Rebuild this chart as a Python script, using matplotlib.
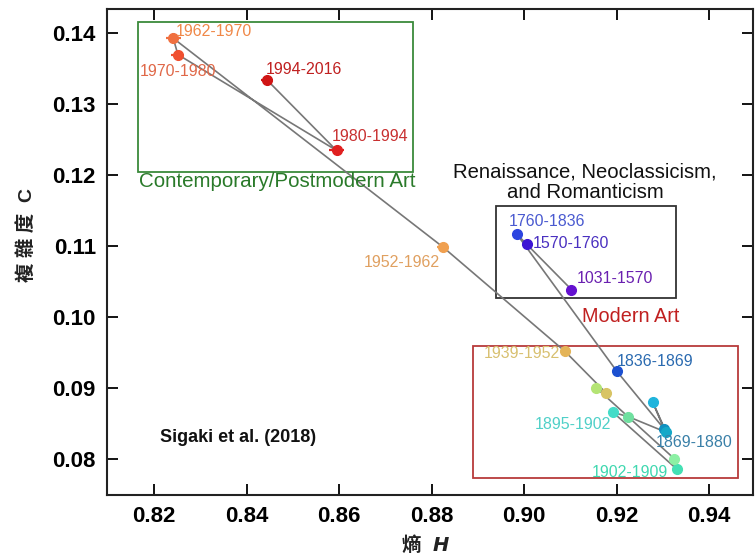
import matplotlib
matplotlib.use("Agg")
import matplotlib.pyplot as plt
import numpy as np

plt.rcParams['font.family'] = ['Liberation Sans', 'Noto Sans CJK TC', 'DejaVu Sans']

# ---- data (path order as drawn) ----
periods = ["1031-1570", "1570-1760", "1760-1836", "1836-1869", "1869-1880", None,
           None, None, "1895-1902", "1902-1909", None, None, None,
           "1939-1952", "1952-1962", "1962-1970", "1970-1980", "1980-1994", "1994-2016"]
entropy_H = [0.9102, 0.9005, 0.8984, 0.9200, 0.9302, 0.9278, 0.9307, 0.9225, 0.9192,
             0.9330, 0.9324, 0.9155, 0.9176, 0.9088, 0.8824, 0.8241, 0.8251, 0.8594, 0.8444]
complexity_C = [0.1038, 0.1102, 0.1116, 0.0923, 0.0842, 0.0879, 0.0837, 0.0859, 0.0865,
                0.0785, 0.0800, 0.0900, 0.0893, 0.0951, 0.1098, 0.1392, 0.1369, 0.1234, 0.1333]
err_H = [0.0003, 0.0003, 0.0003, 0.0003, 0.0003, 0.0003, 0.0003, 0.0003, 0.0003,
         0.0003, 0.0003, 0.0004, 0.0004, 0.0008, 0.0012, 0.0016, 0.0014, 0.0016, 0.0013]
err_C = [0.0002, 0.0002, 0.0002, 0.0002, 0.0002, 0.0002, 0.0002, 0.0002, 0.0002,
         0.0002, 0.0002, 0.0003, 0.0003, 0.0004, 0.0006, 0.0008, 0.0006, 0.0006, 0.0006]
point_colors = ["#6410d0", "#3c14d4", "#2c44e0", "#1c50d0", "#1090c0", "#20b4dc",
                "#14a8c8", "#70e0a0", "#44dcc8", "#44e0b4", "#8cf0a4", "#b4e474",
                "#d8c464", "#e4b458", "#f0a050", "#f07040", "#f05030", "#e02020", "#d01414"]
label_colors = ["#6a20b0", "#4a30c0", "#4a5ad0", "#2a6ab0", "#3a80a8", None,
                None, None, "#50d0c8", "#40d8b0", None, None, None,
                "#d8c070", "#e0a060", "#f08848", "#e06848", "#c83030", "#c02020"]
# label offsets in pixels (dx, dy up), alignment
label_offsets = [(5, 11, "left"), (6, 1, "left"), (-8, 13, "left"), (0, 10, "left"),
                 (-8, -14, "left"), None, None, None, (-2, -12, "right"), (-9, -3, "right"),
                 None, None, None, (-5, -2, "right"), (-3, -15, "right"), (2, 7, "left"),
                 (-38, -17, "left"), (-5, 14, "left"), (-1, 11, "left")]

x_ticks = [0.82, 0.84, 0.86, 0.88, 0.90, 0.92, 0.94]
y_ticks = [0.08, 0.09, 0.10, 0.11, 0.12, 0.13, 0.14]

# ---- figure ----
W, H = 756, 560
fig = plt.figure(figsize=(W / 100, H / 100), dpi=100)
ax = fig.add_axes([107 / W, (H - 495) / H, 646 / W, 485.7 / H])
ax.set_xlim(0.80977, 0.94945)
ax.set_ylim(0.07487, 0.14328)

ax.plot(entropy_H, complexity_C, color="#777777", lw=1.2, zorder=2)
for i in range(len(entropy_H)):
    ax.errorbar(entropy_H[i], complexity_C[i], xerr=err_H[i], yerr=err_C[i],
                fmt="o", ms=7, color=point_colors[i], ecolor=point_colors[i],
                elinewidth=1.6, capsize=0, mec=point_colors[i], zorder=3)

px2pt = 0.72
for i, name in enumerate(periods):
    if name is None:
        continue
    dx, dy, ha = label_offsets[i]
    ax.annotate(name, (entropy_H[i], complexity_C[i]), xytext=(dx * px2pt, dy * px2pt),
                textcoords="offset points", ha=ha, va="center", fontsize=11.5,
                color=label_colors[i], zorder=4)

# group boxes
ax.add_patch(plt.Rectangle((0.8165, 0.1204), 0.0594, 0.0211, fill=False,
                           ec="#3a8a3a", lw=1.3, zorder=1))
ax.text(0.8167, 0.1190, "Contemporary/Postmodern Art", color="#2a7a2a",
        fontsize=14.8, ha="left", va="center")
ax.add_patch(plt.Rectangle((0.8939, 0.10258), 0.0389, 0.0130, fill=False,
                           ec="#333333", lw=1.3, zorder=1))
ax.text(0.9131, 0.11893, "Renaissance, Neoclassicism,\nand Romanticism", color="#111111",
        fontsize=14.6, ha="center", va="center", linespacing=1.12)
ax.add_patch(plt.Rectangle((0.8890, 0.07733), 0.0573, 0.01852, fill=False,
                           ec="#b83a3a", lw=1.3, zorder=1))
ax.text(0.9231, 0.10005, "Modern Art", color="#c02020", fontsize=14.3,
        ha="center", va="center")
ax.text(0.8213, 0.0830, "Sigaki et al. (2018)", color="#111111", fontsize=13,
        fontweight="bold", ha="left", va="center")

ax.set_xticks(x_ticks)
ax.set_yticks(y_ticks)
ax.set_xticklabels([f"{v:.2f}" for v in x_ticks], fontsize=16, fontweight="bold")
ax.set_yticklabels([f"{v:.2f}" for v in y_ticks], fontsize=16, fontweight="bold")
ax.tick_params(direction="in", length=8, width=1.3, top=True, right=True, pad=8)
for s in ax.spines.values():
    s.set_linewidth(1.5)
    s.set_color("#222222")

fig.text(26 / W, 1 - 235 / H, "複 雜 度  C", rotation=90, ha="center", va="center",
         fontsize=14, fontweight="bold", color="#222222")
fig.text(427 / W, 1 - 546 / H, "熵 ", ha="right", va="center", fontsize=14,
         fontweight="bold", color="#222222")
fig.text(427 / W, 1 - 546 / H, " $\\mathbfit{H}$", ha="left", va="center", fontsize=14,
         color="#222222")

fig.savefig("out.png", dpi=100)
